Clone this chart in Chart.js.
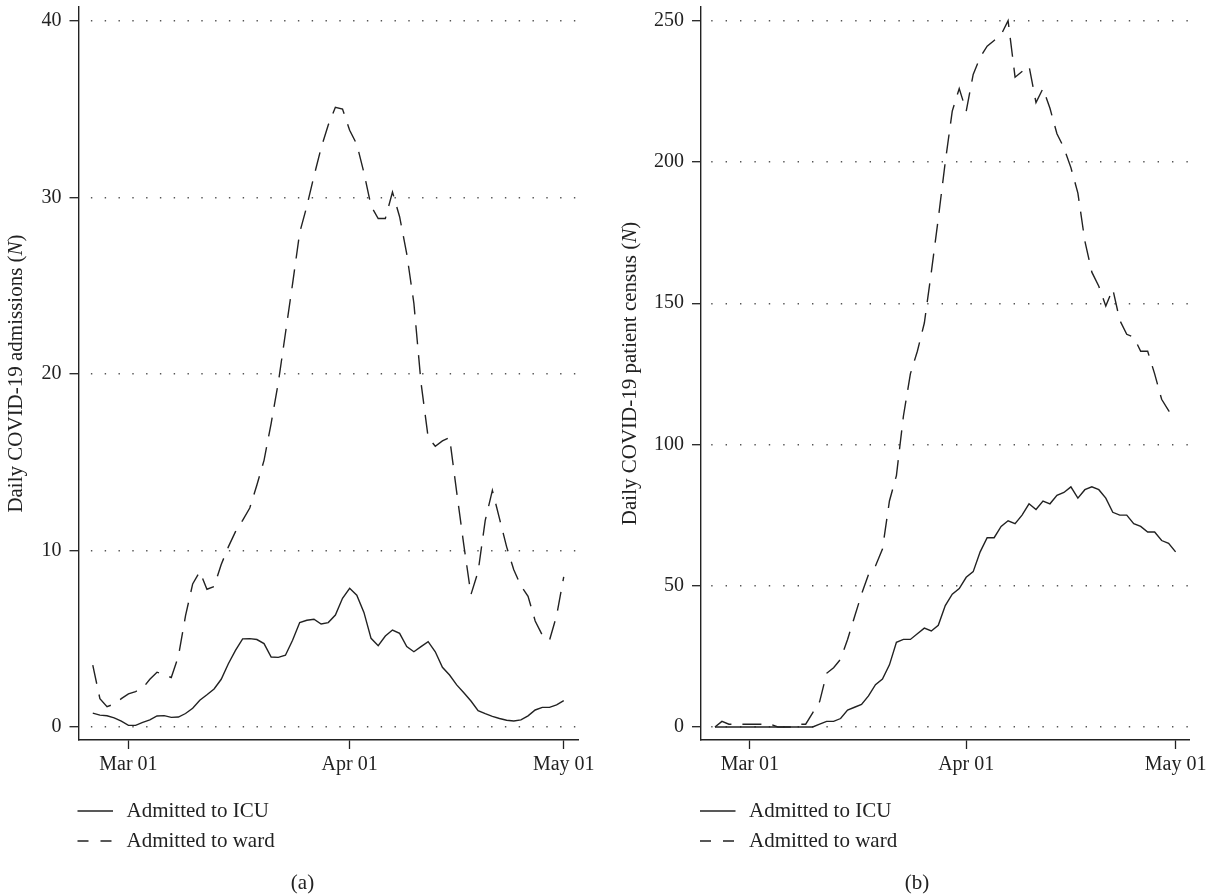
<!DOCTYPE html>
<html><head><meta charset="utf-8">
<script src="https://cdn.jsdelivr.net/npm/chart.js@4/dist/chart.umd.min.js"></script>
<style>
html,body{margin:0;padding:0;background:#fff;}
#wrap{position:relative;width:1211px;height:896px;overflow:hidden;background:#fff;}
canvas{position:absolute;top:0;}
</style></head><body>
<div id="wrap">
<canvas id="ca" width="600" height="896" style="left:0px"></canvas>
<canvas id="cb" width="611" height="896" style="left:600px"></canvas>
</div>
<script>
// Days relative to Mar 01 (Feb 25 = -5 ... May 01 = 61)
const days = [-5,-4,-3,-2,-1,0,1,2,3,4,5,6,7,8,9,10,11,12,13,14,15,16,17,18,19,20,21,22,23,24,25,26,27,28,29,30,31,32,33,34,35,36,37,38,39,40,41,42,43,44,45,46,47,48,49,50,51,52,53,54,55,56,57,58,59,60,61];
const tickDays = [0, 31, 61];
const tickLabels = ["Mar 01", "Apr 01", "May 01"];
const seriesLabels = ["Admitted to ICU", "Admitted to ward"];

const icuAdmissions = [0.78,0.67,0.63,0.51,0.33,0.09,0.09,0.26,0.40,0.62,
  0.64,0.54,0.56,0.76,1.06,1.51,1.82,2.15,2.70,3.58,
  4.34,4.99,5.0,4.95,4.72,3.96,3.94,4.06,4.91,5.91,
  6.04,6.1,5.83,5.91,6.34,7.29,7.85,7.46,6.49,5.02,
  4.60,5.15,5.49,5.30,4.55,4.26,4.55,4.83,4.26,3.38,
  2.94,2.38,1.94,1.47,0.92,0.75,0.60,0.48,0.38,0.34,
  0.40,0.63,0.96,1.11,1.11,1.25,1.49];
const wardAdmissions = [3.5,1.6,1.15,1.3,1.6,1.87,2.0,2.2,2.7,3.1,
  2.95,2.8,4.0,6.3,8.1,8.8,7.8,7.95,9.2,10.2,
  11.06,11.7,12.4,13.7,15.1,17.2,19.5,22.3,25.1,28.0,
  29.5,31.2,32.8,34.1,35.1,35.0,33.8,33.0,31.4,29.5,
  28.8,28.8,30.3,28.9,26.8,24.0,19.5,16.4,15.9,16.2,
  16.4,13.3,10.3,7.5,8.8,11.7,13.4,11.8,10.2,8.9,
  8.0,7.4,6.0,5.2,4.9,6.3,8.5];
const icuCensus = [0,0,0,0,0,0,0,0,0,0,
  0,0,0,0,0,1,2,2,3,6,
  7,8,11,15,17,22,30,31,31,33,
  35,34,36,43,47,49,53,55,62,67,
  67,71,73,72,75,79,77,80,79,82,
  83,85,81,84,85,84,81,76,75,75,
  72,71,69,69,66,65,62];
const wardCensus = [0,2,1,1,1,1,1,1,1,0,
  0,0,1,1,5,9,19,21,24,31,
  39,47,54,57,63,80,89,110,125,133,
  143,161,180,200,218,226,218,231,237,241,
  243,245,250,230,232,234,221,226,219,210,
  205,198,189,172,161,156,149,155,144,139,
  138,133,133,125,116,112,109];

const yTicksA = [0, 10, 20, 30, 40];
const yTicksB = [0, 50, 100, 150, 200, 250];
const yTitleA = ["Daily COVID-19 admissions (", "N", ")"];
const yTitleB = ["Daily COVID-19 patient census (", "N", ")"];

const SERIF = '"Liberation Serif", "Times New Roman", serif';
const INK = '#222';

const panelDecor = {
  id: 'panelDecor',
  afterDraw(chart, args, o) {
    const ctx = chart.ctx, ca = chart.chartArea;
    ctx.save();
    ctx.fillStyle = INK;
    // rotated y title with italic N
    ctx.save();
    ctx.translate(o.titleX, (ca.top + ca.bottom) / 2);
    ctx.rotate(-Math.PI / 2);
    ctx.textBaseline = 'middle';
    ctx.textAlign = 'left';
    const fonts = ['21px ' + SERIF, 'italic 21px ' + SERIF, '21px ' + SERIF];
    let total = 0;
    o.title.forEach((t, i) => { ctx.font = fonts[i]; total += ctx.measureText(t).width; });
    let x = -total / 2;
    o.title.forEach((t, i) => { ctx.font = fonts[i]; ctx.fillText(t, x, 0); x += ctx.measureText(t).width; });
    ctx.restore();
    // legend
    chart.data.datasets.forEach((ds, i) => {
      const y = o.legendY + i * o.legendGap;
      ctx.save();
      ctx.lineWidth = 1.4;
      ctx.strokeStyle = ds.borderColor;
      ctx.setLineDash(ds.borderDash && ds.borderDash.length ? [11, 12] : []);
      ctx.beginPath();
      ctx.moveTo(ca.left - 1, y);
      ctx.lineTo(ca.left + 34.5, y);
      ctx.stroke();
      ctx.restore();
      ctx.font = '21px ' + SERIF;
      ctx.textBaseline = 'middle';
      ctx.textAlign = 'left';
      ctx.fillText(ds.label, ca.left + 48, y);
    });
    // caption
    ctx.font = '21px ' + SERIF;
    ctx.textAlign = 'center';
    ctx.textBaseline = 'middle';
    ctx.fillText(o.caption, o.captionX, o.captionY);
    ctx.restore();
  }
};

function makePanel(id, p) {
  const toPts = vals => days.map((d, i) => ({x: d, y: vals[i]}));
  return new Chart(document.getElementById(id), {
    type: 'line',
    data: {
      datasets: [
        {label: seriesLabels[0], data: toPts(p.icu), borderColor: INK, borderWidth: 1.4,
         pointRadius: 0, tension: 0, fill: false},
        {label: seriesLabels[1], data: toPts(p.ward), borderColor: INK, borderWidth: 1.4,
         borderDash: [19, 11], pointRadius: 0, tension: 0, fill: false}
      ]
    },
    options: {
      responsive: false,
      animation: false,
      devicePixelRatio: 1,
      layout: {padding: {left: 0, right: p.padRight, top: 7, bottom: 96}},
      plugins: {
        legend: {display: false},
        tooltip: {enabled: false},
        panelDecor: {title: p.title, titleX: p.titleX, legendY: 811, legendGap: 30,
                     caption: p.caption, captionX: p.captionX, captionY: 883}
      },
      scales: {
        x: {
          type: 'linear', min: -7, max: 63,
          afterBuildTicks: s => { s.ticks = tickDays.map(v => ({value: v})); },
          afterFit: s => { s.height = 60; },
          ticks: {
            callback: v => tickLabels[tickDays.indexOf(v)],
            font: {family: SERIF, size: 20}, color: INK, padding: 4,
            maxRotation: 0, autoSkip: false
          },
          grid: {drawOnChartArea: false, drawTicks: true, tickLength: 9, tickColor: INK, tickWidth: 1.3},
          border: {display: true, color: INK, width: 1.4}
        },
        y: {
          type: 'linear', min: p.yMin, max: p.yMax,
          afterBuildTicks: s => { s.ticks = p.yTicks.map(v => ({value: v})); },
          afterFit: s => { s.width = p.yAxisWidth; s.paddingTop = 0; s.paddingBottom = 0; },
          ticks: {font: {family: SERIF, size: 20}, color: INK, padding: 8},
          grid: {drawOnChartArea: true, color: '#555', lineWidth: 1.4,
                 drawTicks: true, tickLength: 9, tickColor: INK, tickWidth: 1.3},
          border: {display: true, color: INK, width: 1.4, dash: p.gridDash, dashOffset: p.gridOffset}
        }
      }
    },
    plugins: [panelDecor]
  });
}

makePanel('ca', {
  icu: icuAdmissions, ward: wardAdmissions, yMin: -0.74, yMax: 40.78, yTicks: yTicksA,
  yAxisWidth: 78.5, padRight: 22, title: yTitleA, titleX: 16.5,
  caption: '(a)', captionX: 302.5, gridDash: [1.4, 12.4], gridOffset: 2.3
});
makePanel('cb', {
  icu: icuCensus, ward: wardCensus, yMin: -4.6, yMax: 254.85, yTicks: yTicksB,
  yAxisWidth: 101, padRight: 20.3, title: yTitleB, titleX: 30.3,
  caption: '(b)', captionX: 317, gridDash: [1.4, 13.0], gridOffset: 4.6
});
</script>
</body></html>
